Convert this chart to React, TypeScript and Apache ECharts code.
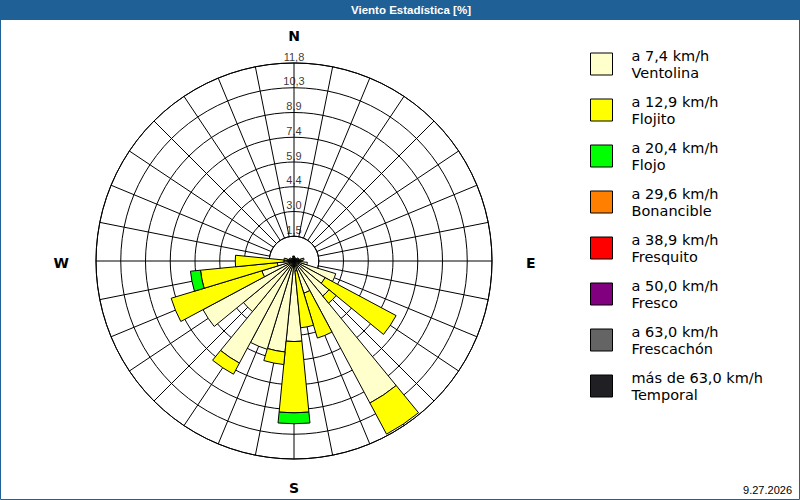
import React, { useEffect, useRef } from 'react';
import * as echarts from 'echarts';

const directions = [
  'N', 'NbE', 'NNE', 'NEbN', 'NE', 'NEbE', 'ENE', 'EbN',
  'E', 'EbS', 'ESE', 'SEbE', 'SE', 'SEbS', 'SSE', 'SbE',
  'S', 'SbW', 'SSW', 'SWbS', 'SW', 'SWbW', 'WSW', 'WbS',
  'W', 'WbN', 'WNW', 'NWbW', 'NW', 'NWbN', 'NNW', 'NbW',
];

const tickValues = [1.475, 2.95, 4.425, 5.9, 7.375, 8.85, 10.325, 11.8];
const tickLabels = ['1,5', '3,0', '4,4', '5,9', '7,4', '8,9', '10,3', '11,8'];
const compassLabels: Record<number, string> = { 0: '{n|N}', 90: '{e|E}', 180: '{s|S}', 270: '{w|W}' };

const speedLimits = ['a 7,4 km/h', 'a 12,9 km/h', 'a 20,4 km/h', 'a 29,6 km/h', 'a 38,9 km/h', 'a 50,0 km/h', 'a 63,0 km/h', 'más de 63,0 km/h'];
const classNames = ['Ventolina', 'Flojito', 'Flojo', 'Bonancible', 'Fresquito', 'Fresco', 'Frescachón', 'Temporal'];
const classColors = ['#ffffcc', '#ffff00', '#00ff00', '#ff8000', '#ff0000', '#800080', '#646464', '#202024'];

const ventolina = [0.3, 0.2, 0.2, 0.2, 0.2, 0.3, 0.3, 0.4, 0.5, 0.8, 2.6, 2.1, 2.7, 9.6, 2.0, 0.6, 4.8, 5.45, 5.5, 6.9, 3.9, 6.15, 2.0, 1.0, 0.6, 0.4, 0.3, 0.3, 0.2, 0.2, 0.2, 0.3];
const flojito = [0, 0, 0, 0, 0, 0, 0, 0.2, 0, 0, 0, 4.8, 0.55, 2.1, 2.8, 3.4, 4.25, 0.75, 0, 0.75, 0, 0, 5.65, 4.6, 2.9, 0.2, 0, 0, 0, 0, 0, 0];
const flojo = [0, 0, 0, 0, 0, 0, 0, 0, 0, 0, 0, 0, 0, 0, 0, 0, 0.65, 0, 0, 0, 0, 0, 0, 0.6, 0, 0, 0, 0, 0, 0, 0, 0];
const bonancible = [0, 0, 0, 0, 0, 0, 0, 0, 0, 0, 0, 0, 0, 0, 0, 0, 0, 0, 0, 0, 0, 0, 0, 0, 0, 0, 0, 0, 0, 0, 0, 0];
const fresquito = [0, 0, 0, 0, 0, 0, 0, 0, 0, 0, 0, 0, 0, 0, 0, 0, 0, 0, 0, 0, 0, 0, 0, 0, 0, 0, 0, 0, 0, 0, 0, 0];
const fresco = [0, 0, 0, 0, 0, 0, 0, 0, 0, 0, 0, 0, 0, 0, 0, 0, 0, 0, 0, 0, 0, 0, 0, 0, 0, 0, 0, 0, 0, 0, 0, 0];
const frescachon = [0, 0, 0, 0, 0, 0, 0, 0, 0, 0, 0, 0, 0, 0, 0, 0, 0, 0, 0, 0, 0, 0, 0, 0, 0, 0, 0, 0, 0, 0, 0, 0];
const temporal = [0, 0, 0, 0, 0, 0, 0, 0, 0, 0, 0, 0, 0, 0, 0, 0, 0, 0, 0, 0, 0, 0, 0, 0, 0, 0, 0, 0, 0, 0, 0, 0];

const seriesValues = [ventolina, flojito, flojo, bonancible, fresquito, fresco, frescachon, temporal];

const titleText = 'Viento Estadística [%]';
const dateText = '9.27.2026';

export default function App() {
  const ref = useRef<HTMLDivElement>(null);
  useEffect(() => {
    if (!ref.current) return;
    const chart = echarts.init(ref.current, null, { renderer: 'svg' });
    const center = [294, 261];
    const outerR = 198;
    const maxV = tickValues[tickValues.length - 1];
    const innerR = (tickValues[0] / maxV) * outerR;
    const step = 360 / directions.length;

    const legendNames = speedLimits.map((s, i) => s + '\n' + classNames[i]);
    const compassFont = { fontFamily: 'DejaVu Sans', fontWeight: 'bold', fontSize: 14, color: '#000' };

    const option: any = {
      animation: false,
      backgroundColor: '#ffffff',
      polar: [
        { center, radius: [innerR, outerR] },
        { center, radius: [0, outerR] },
      ],
      angleAxis: [
        {
          polarIndex: 0,
          type: 'value',
          min: 0,
          max: 360,
          interval: step,
          startAngle: 90,
          clockwise: true,
          axisLine: { show: true, lineStyle: { color: '#000', width: 1 } },
          axisTick: { show: false },
          splitLine: { show: true, lineStyle: { color: '#000', width: 1 } },
          axisLabel: {
            show: true,
            margin: 20,
            ...compassFont,
            rich: {
              n: { ...compassFont },
              s: { ...compassFont, padding: [2, 0, 0, 0] },
              e: { ...compassFont, padding: [4, 0, 0, 14] },
              w: { ...compassFont, padding: [4, 7, 0, 0] },
            },
            formatter: (v: number) => (v === 360 ? '' : compassLabels[v] || ''),
          },
        },
        {
          polarIndex: 1,
          type: 'category',
          data: directions,
          startAngle: 90 + step / 2,
          clockwise: true,
          axisLine: { show: false },
          axisTick: { show: false },
          axisLabel: { show: false },
          splitLine: { show: false },
        },
      ],
      radiusAxis: [
        {
          polarIndex: 0,
          type: 'value',
          min: tickValues[0],
          max: maxV,
          interval: tickValues[0],
          axisLine: { show: false },
          axisTick: { show: false },
          axisLabel: { show: false },
          splitLine: { show: true, lineStyle: { color: '#000', width: 1 } },
        },
        {
          polarIndex: 1,
          type: 'value',
          min: 0,
          max: maxV,
          axisLine: { show: false },
          axisTick: { show: false },
          axisLabel: { show: false },
          splitLine: { show: false },
        },
      ],
      legend: {
        orient: 'vertical',
        left: 590,
        top: 35.5,
        padding: 0,
        itemWidth: 22,
        itemHeight: 22,
        itemGap: -11,
        icon: 'rect',
        selectedMode: false,
        itemStyle: { borderColor: '#000', borderWidth: 1 },
        textStyle: {
          fontFamily: 'DejaVu Sans',
          fontSize: 14.5,
          lineHeight: 17,
          color: '#000',
          padding: [23, 0, 0, 14],
        },
        data: legendNames,
      },
      series: [
        ...seriesValues.map((vals, si) => ({
          type: 'bar',
          name: legendNames[si],
          coordinateSystem: 'polar',
          polarIndex: 1,
          stack: 'wind',
          barCategoryGap: '0%',
          data: vals.map((v) => (v > 0 ? v : null)),
          itemStyle: { color: classColors[si], borderColor: '#000', borderWidth: 1 },
          emphasis: { disabled: true },
        })),
        {
          type: 'scatter',
          coordinateSystem: 'polar',
          polarIndex: 0,
          symbolSize: 0,
          silent: true,
          data: tickValues.map((v) => [v, 0]),
          label: {
            show: true,
            position: 'top',
            distance: 1,
            fontFamily: 'Liberation Sans',
            fontSize: 11,
            color: '#000',
            formatter: (p: any) => tickLabels[p.dataIndex],
          },
        },
      ],
      graphic: [
        { type: 'rect', shape: { x: 0, y: 0, width: 800, height: 20 }, style: { fill: '#1f6096' }, z: 10 },
        {
          type: 'text',
          x: 411,
          y: 10,
          style: {
            text: titleText,
            fill: '#ffffff',
            font: 'bold 11.5px "Liberation Sans"',
            textAlign: 'center',
            textVerticalAlign: 'middle',
          },
          z: 11,
        },
        {
          type: 'rect',
          shape: { x: 0.5, y: 0.5, width: 799, height: 499 },
          style: { fill: 'none', stroke: '#1f6096', lineWidth: 1 },
          z: 10,
        },
        {
          type: 'text',
          x: 792,
          y: 490,
          style: {
            text: dateText,
            fill: '#000',
            font: '11px "Liberation Sans"',
            textAlign: 'right',
            textVerticalAlign: 'middle',
          },
          z: 11,
        },
      ],
    };
    chart.setOption(option);
    return () => chart.dispose();
  }, []);
  return (
    <div
      ref={ref}
      style={{ position: 'absolute', left: 0, top: 0, width: 800, height: 500, background: '#fff' }}
    />
  );
}
